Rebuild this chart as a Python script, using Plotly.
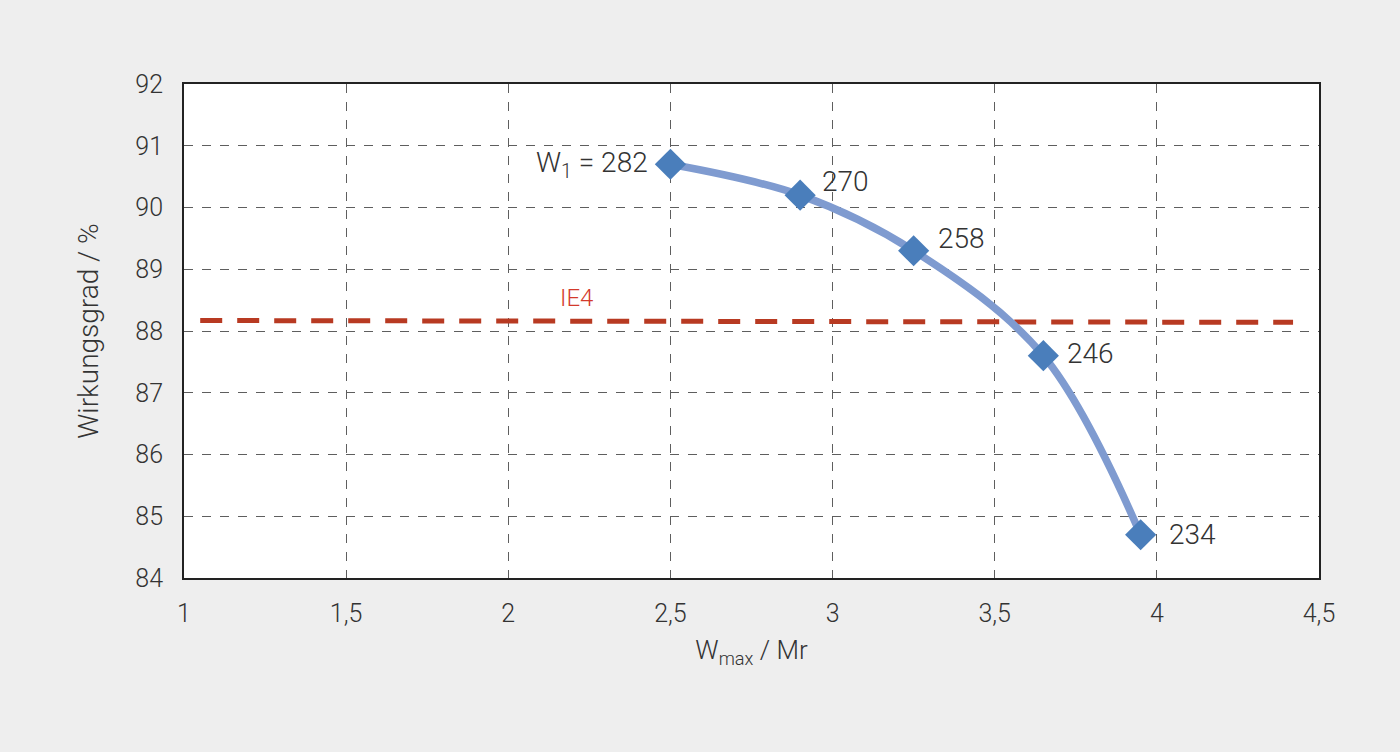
import plotly.graph_objects as go

# Data
x_ratio = [2.5, 2.9, 3.25, 3.65, 3.95]
efficiency = [90.7, 90.2, 89.3, 87.6, 84.7]
w1_labels = ["W<sub>1</sub> = 282", "270", "258", "246", "234"]
ie4_x = [1.05, 4.42]
ie4_y = [88.17, 88.14]
x_ticks = [1, 1.5, 2, 2.5, 3, 3.5, 4, 4.5]
y_ticks = [84, 85, 86, 87, 88, 89, 90, 91, 92]

FONT = "Roboto, Liberation Sans, Arial, sans-serif"
TXT = "#333333"
W = 300

fig = go.Figure()

fig.add_trace(go.Scatter(
    x=ie4_x, y=ie4_y, mode="lines",
    line=dict(color="#b83a22", width=5, dash="22px,15px"),
    hoverinfo="skip", showlegend=False,
))

fig.add_trace(go.Scatter(
    x=x_ratio, y=efficiency, mode="lines",
    line=dict(color="#7f9bd0", width=7.5, shape="spline", smoothing=1.0),
    showlegend=False,
))
fig.add_trace(go.Scatter(
    x=x_ratio, y=efficiency, mode="markers",
    marker=dict(symbol="diamond", size=24, color="#4a7ebb",
                line=dict(width=0)),
    showlegend=False,
))

# point labels
offsets = [(-20, 0, "right"), (20, 14, "left"), (22, 12, "left"), (22, 2, "left"), (26, 0, "left")]
for xv, yv, lab, (dx, dy, anc) in zip(x_ratio, efficiency, w1_labels, offsets):
    fig.add_annotation(x=xv, y=yv, text=lab, showarrow=False,
                       xanchor=anc, yanchor="middle", xshift=dx, yshift=dy,
                       font=dict(family=FONT, size=28, color=TXT, weight=W))

fig.add_annotation(x=2.21, y=88.53, text="IE4", showarrow=False,
                   font=dict(family=FONT, size=24, color="#d33a2c", weight=W))

fig.update_layout(
    width=1400, height=752,
    margin=dict(l=184, r=81, t=84, b=174),
    paper_bgcolor="#eeeeee", plot_bgcolor="#ffffff",
    separators=",.",
    font=dict(family=FONT, color=TXT, size=25, weight=W),
    xaxis=dict(
        range=[1, 4.5], tickvals=x_ticks, ticks="", ticklabelstandoff=12,
        showgrid=True, gridcolor="#5e5e5e", griddash="dash", gridwidth=1,
        zeroline=False, showline=True, linecolor="#222222", linewidth=2, mirror=True,
        tickfont=dict(family=FONT, size=25, color=TXT, weight=W),
        title=dict(text="W<sub>max</sub> / Mr", font=dict(family=FONT, size=26, color=TXT, weight=W), standoff=14),
    ),
    yaxis=dict(
        range=[84, 92], tickvals=y_ticks, ticks="", ticklabelstandoff=14,
        showgrid=True, gridcolor="#5e5e5e", griddash="dash", gridwidth=1,
        zeroline=False, showline=True, linecolor="#222222", linewidth=2, mirror=True,
        tickfont=dict(family=FONT, size=25, color=TXT, weight=W),
        title=dict(text="Wirkungsgrad / %", font=dict(family=FONT, size=28, color=TXT, weight=W), standoff=28),
    ),
)

fig.write_html("out.html")
